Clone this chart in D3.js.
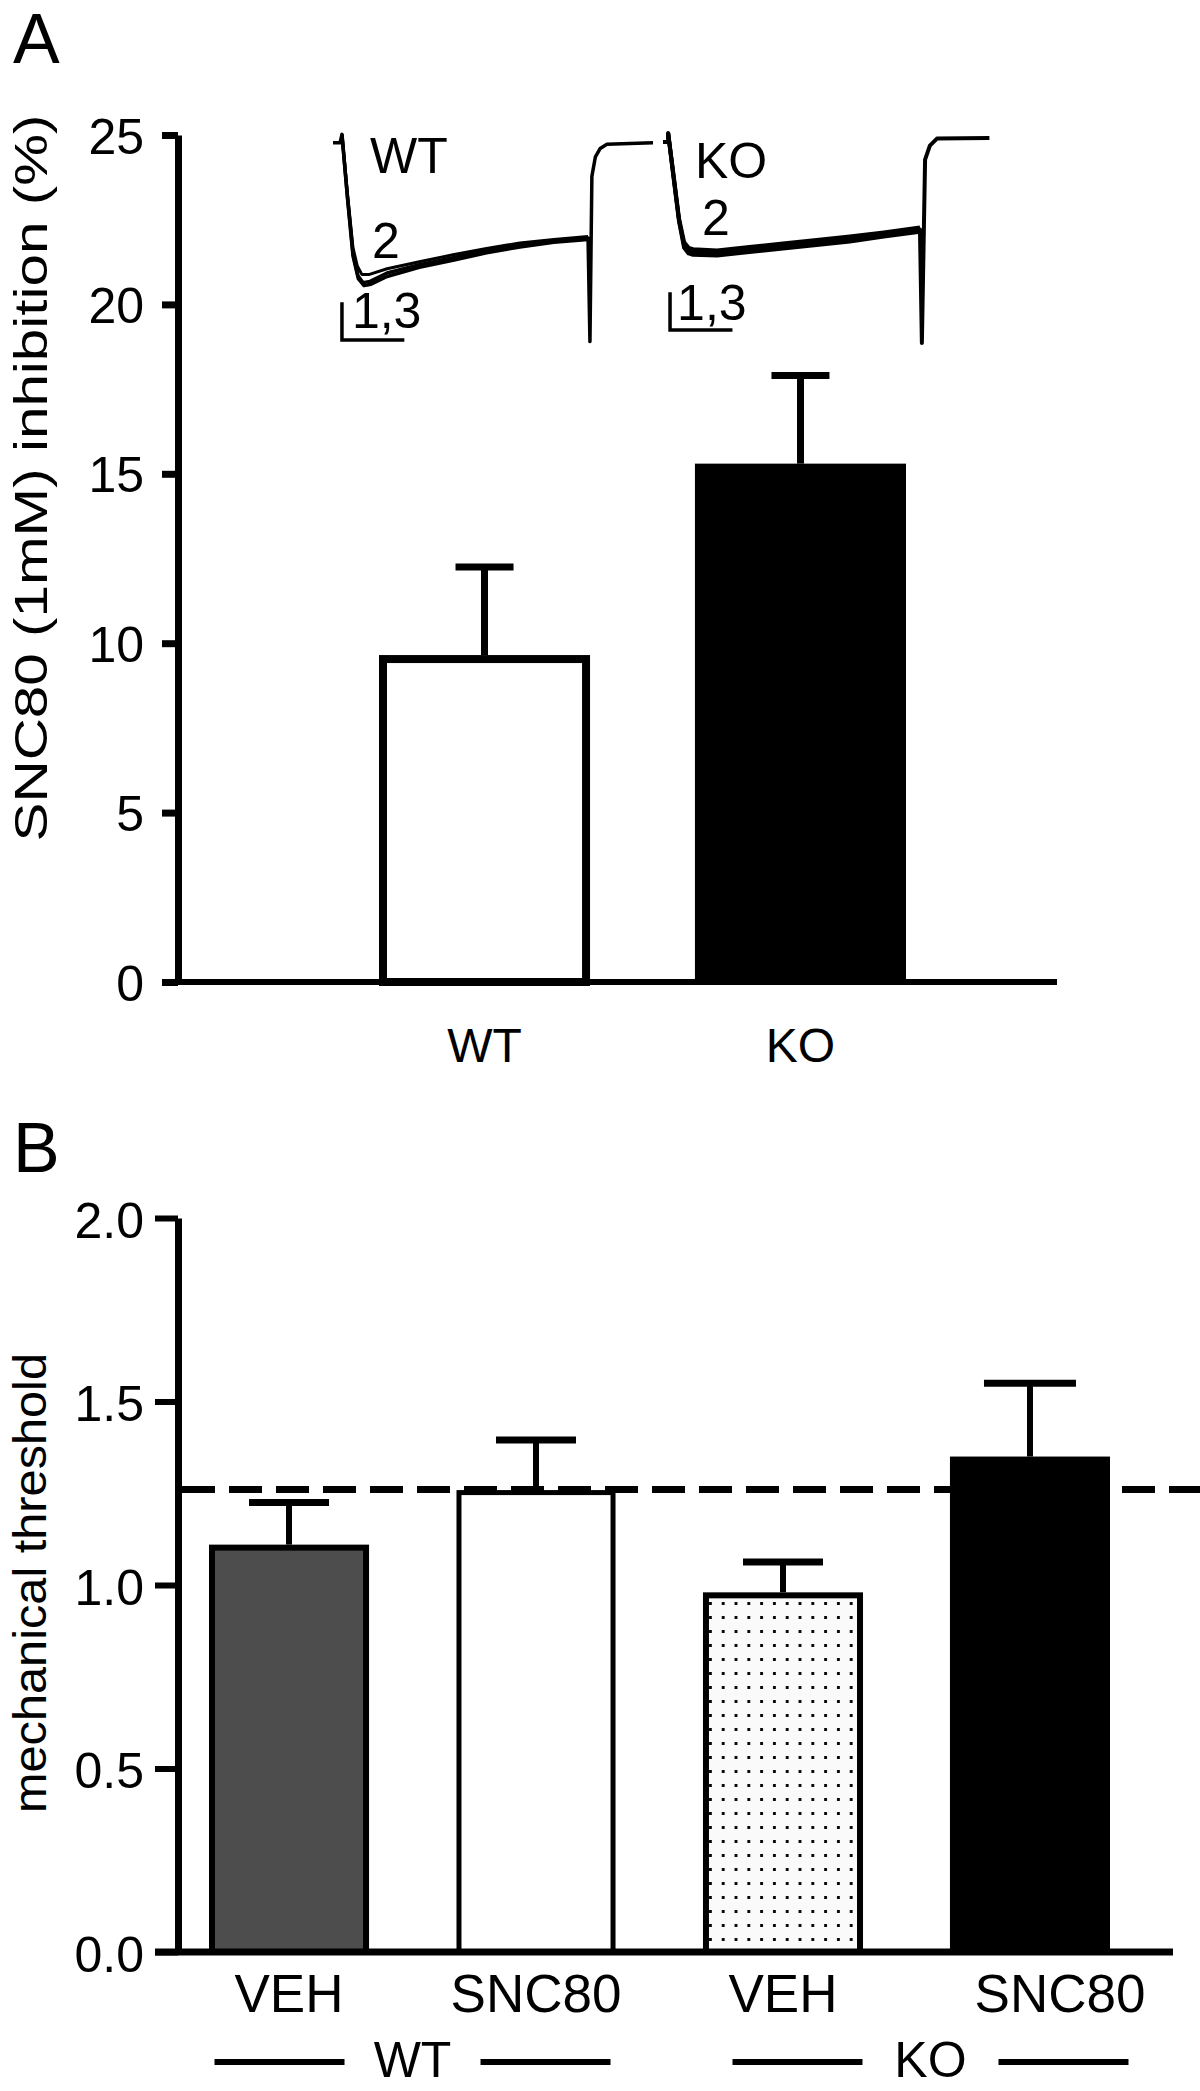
<!DOCTYPE html>
<html><head><meta charset="utf-8">
<script src="https://cdn.jsdelivr.net/npm/d3@7"></script>
<style>
body{margin:0;background:#fff}
svg{display:block}
text{font-family:"Liberation Sans",Arial,Helvetica,sans-serif;fill:#000}
</style>
</head><body>
<svg id="chart" width="1200" height="2091"></svg>
<script>
// ---------- Panel A data ----------
const catsA = ["WT", "KO"];
const meanA = [9.65, 15.3];
const semA = [2.6, 2.6];
const ticksA = [0, 5, 10, 15, 20, 25];
const titleA = "SNC80 (1mM)  inhibition (%)";

// ---------- Panel A inset traces (time ms, current rel. units) ----------
const traceWT1 = [[0,-2],[2.2,-2],[2.8,4],[4.5,-40],[6.25,-81],[7.8,-97],[9.4,-102],[11.6,-101],[16.9,-95],[27,-89],[37.5,-84],[48,-79],[58.4,-75],[69,-72],[79.7,-70],[80.3,-144],[80.9,-26],[82,-12],[83.5,-6],[85.6,-3],[100,-2]];
const traceWT2 = [[2.8,4],[4.5,-38],[6.25,-77],[7.6,-90],[9.0,-96],[11.4,-96],[16.9,-92],[27,-87],[37.5,-82],[48,-77.5],[58.4,-73.5],[69,-71],[79.7,-69]];
const traceWT3 = [[2.8,4],[4.5,-41],[6.25,-83],[7.9,-99],[9.7,-104],[11.9,-103],[16.9,-97.5],[27,-91],[37.5,-86],[48,-80.5],[58.4,-76.5],[69,-73],[79.7,-71]];
const traceKO1 = [[0,-1.5],[1.6,-1.5],[1.6,5],[3.3,-26],[5,-57],[6.6,-75],[8,-79],[9.4,-80],[16.9,-81],[27,-78.5],[37.5,-76],[48,-73.5],[58.4,-71],[69,-67.5],[80.3,-64],[80.9,-145],[81.9,-14],[83.4,-4],[85.6,1],[102,1.5]];
const traceKO2 = [[1.6,5],[3.3,-25],[5,-56],[6.6,-73],[8,-77],[9.4,-78],[16.9,-79],[27,-76.5],[37.5,-74],[48,-71.5],[58.4,-69],[69,-66],[80.3,-62.5]];
const traceKO3 = [[1.6,5],[3.3,-27],[5,-58],[6.6,-77],[8,-81],[9.4,-82],[16.9,-82.5],[27,-80],[37.5,-77.5],[48,-75],[58.4,-72.5],[69,-69],[80.3,-65.5]];

// ---------- Panel B data ----------
const catsB = ["VEH", "SNC80", "VEH", "SNC80"];
const groupsB = ["WT", "KO"];
const meanB = [1.11, 1.26, 0.98, 1.35];
const semB = [0.115, 0.135, 0.083, 0.20];
const ticksB = [0, 0.5, 1.0, 1.5, 2.0];
const controlB = 1.26;
const titleB = "mechanical threshold";

const svg = d3.select("#chart");

// pattern for dotted bar
const defs = svg.append("defs");
const pat = defs.append("pattern").attr("id","dots").attr("patternUnits","userSpaceOnUse")
  .attr("width",12.8).attr("height",14);
pat.append("rect").attr("width",12.8).attr("height",14).attr("fill","#fafafa");
pat.append("rect").attr("x",5).attr("y",6).attr("width",2.8).attr("height",3).attr("fill","#000");

// ================= PANEL A =================
const yA = d3.scaleLinear().domain([0, 25]).range([982, 135]);
const xA = d3.scaleBand().domain(catsA).range([379, 906]).paddingInner(0.332).paddingOuter(0);
const axisXA = 178;

svg.append("text").attr("x", 13).attr("y", 63).attr("font-size", 70).text("A");

// y axis
const gA = svg.append("g").attr("transform", `translate(${axisXA},0)`)
  .call(d3.axisLeft(yA).tickValues(ticksA).tickSize(16).tickSizeOuter(0).tickPadding(18).tickFormat(d3.format("d")));
gA.select(".domain").attr("stroke","#000").attr("stroke-width",7);
gA.selectAll(".tick line").attr("stroke","#000").attr("stroke-width",7);
gA.selectAll(".tick text").attr("font-size",50).attr("dy","0.36em").attr("font-family","Liberation Sans, Arial, sans-serif");

// x axis line
svg.append("line").attr("x1", axisXA - 16).attr("x2", 1057).attr("y1", yA(0)).attr("y2", yA(0))
  .attr("stroke","#000").attr("stroke-width",6);

// bars A
const swA = 8;
catsA.forEach((c,i) => {
  const x = xA(c), w = xA.bandwidth();
  if (i === 0) {
    svg.append("rect").attr("x", x + swA/2).attr("y", yA(meanA[i]) + swA/2)
      .attr("width", w - swA).attr("height", yA(0) - yA(meanA[i]) - swA/2)
      .attr("fill","#fff").attr("stroke","#000").attr("stroke-width",swA);
  } else {
    svg.append("rect").attr("x", x).attr("y", yA(meanA[i]))
      .attr("width", w).attr("height", yA(0) - yA(meanA[i]) + 3).attr("fill","#000");
  }
  const cx = x + w/2;
  svg.append("line").attr("x1",cx).attr("x2",cx).attr("y1",yA(meanA[i])).attr("y2",yA(meanA[i]+semA[i]))
    .attr("stroke","#000").attr("stroke-width",7);
  svg.append("line").attr("x1",cx-29).attr("x2",cx+29).attr("y1",yA(meanA[i]+semA[i])).attr("y2",yA(meanA[i]+semA[i]))
    .attr("stroke","#000").attr("stroke-width",7);
  svg.append("text").attr("x",cx).attr("y",1062).attr("text-anchor","middle").attr("font-size",48).text(c);
});

// y title A
svg.append("text").attr("transform",`translate(47,${478}) rotate(-90)`).attr("text-anchor","middle")
  .attr("font-size",46).attr("textLength",727).attr("lengthAdjust","spacingAndGlyphs").text(titleA);

// ---- inset traces ----
const yTr = d3.scaleLinear().domain([0,-100]).range([140,280]);
const xTrWT = d3.scaleLinear().domain([0,100]).range([333,653]);
const xTrKO = d3.scaleLinear().domain([0,100]).range([663,983]);
function drawTrace(data, xs, sw){
  svg.append("path").datum(data)
    .attr("d", d3.line().x(d=>xs(d[0])).y(d=>yTr(d[1])))
    .attr("fill","none").attr("stroke","#000").attr("stroke-width",sw).attr("stroke-linejoin","round");
}
drawTrace(traceWT2, xTrWT, 3);
drawTrace(traceWT3, xTrWT, 3.5);
drawTrace(traceWT1, xTrWT, 3.5);
drawTrace(traceKO2, xTrKO, 4);
drawTrace(traceKO3, xTrKO, 4);
drawTrace(traceKO1, xTrKO, 4);

function insetLabel(xs, t, v, txt){
  svg.append("text").attr("x", xs(t)).attr("y", yTr(v)).attr("font-size",50).text(txt);
}
insetLabel(xTrWT, 11.6, -23.6, "WT");
insetLabel(xTrWT, 12.2, -84, "2");
insetLabel(xTrWT, 5.9, -134, "1,3");
insetLabel(xTrKO, 10, -27, "KO");
insetLabel(xTrKO, 12.2, -68, "2");
insetLabel(xTrKO, 4.4, -128.6, "1,3");

function scaleBar(xs, t0, v0){
  const p = d3.path();
  p.moveTo(xs(t0), yTr(v0 + 27));
  p.lineTo(xs(t0), yTr(v0));
  p.lineTo(xs(t0 + 19.5), yTr(v0));
  svg.append("path").attr("d", p.toString()).attr("fill","none").attr("stroke","#000").attr("stroke-width",3.5);
}
scaleBar(xTrWT, 2.8, -142.9);
scaleBar(xTrKO, 2.2, -135.7);

// ================= PANEL B =================
const yB = d3.scaleLinear().domain([0, 2]).range([1952, 1218]);
const xB = d3.scaleBand().domain(d3.range(catsB.length)).range([209, 1110]).paddingInner(0.352).paddingOuter(0);
const axisXB = 178;

svg.append("text").attr("x", 13).attr("y", 1172).attr("font-size", 70).text("B");

const gB = svg.append("g").attr("transform", `translate(${axisXB},0)`)
  .call(d3.axisLeft(yB).tickValues(ticksB).tickSize(23).tickSizeOuter(0).tickPadding(11).tickFormat(d3.format(".1f")));
gB.select(".domain").attr("stroke","#000").attr("stroke-width",7);
gB.selectAll(".tick line").attr("stroke","#000").attr("stroke-width",6);
gB.selectAll(".tick text").attr("font-size",50).attr("dy","0.38em").attr("font-family","Liberation Sans, Arial, sans-serif");

const fillsB = ["#4d4d4d", "#fff", "url(#dots)", "#000"];
const swB = 6;
meanB.forEach((m,i) => {
  const x = xB(i), w = xB.bandwidth();
  if (i === 3) {
    svg.append("rect").attr("x",x).attr("y",yB(m)).attr("width",w).attr("height",yB(0)-yB(m)).attr("fill","#000");
  } else {
    svg.append("rect").attr("x",x+swB/2).attr("y",yB(m)+swB/2).attr("width",w-swB).attr("height",yB(0)-yB(m)-swB/2)
      .attr("fill",fillsB[i]).attr("stroke","#000").attr("stroke-width",i===1?5:swB);
  }
  const cx = x + w/2;
  svg.append("line").attr("x1",cx).attr("x2",cx).attr("y1",yB(m)).attr("y2",yB(m+semB[i]))
    .attr("stroke","#000").attr("stroke-width",6);
  const cw = i === 3 ? 46 : 40;
  svg.append("line").attr("x1",cx-cw).attr("x2",cx+cw).attr("y1",yB(m+semB[i])).attr("y2",yB(m+semB[i]))
    .attr("stroke","#000").attr("stroke-width",7);
  svg.append("text").attr("x",cx + (i===3?30:0)).attr("y",2012).attr("text-anchor","middle").attr("font-size",53).text(catsB[i]);
});

// x axis B
svg.append("line").attr("x1",axisXB-23).attr("x2",1173).attr("y1",yB(0)).attr("y2",yB(0))
  .attr("stroke","#000").attr("stroke-width",7);

// control dashed line
svg.append("line").attr("x1",axisXB+4).attr("x2",1200).attr("y1",yB(controlB)).attr("y2",yB(controlB))
  .attr("stroke","#000").attr("stroke-width",7).attr("stroke-dasharray","33,14");

// group labels
groupsB.forEach((g,gi) => {
  const c = (xB(gi*2) + xB(gi*2+1) + xB.bandwidth())/2 + (gi===1?24:0);
  svg.append("text").attr("x",c).attr("y",2077).attr("text-anchor","middle").attr("font-size",50).text(g);
  [[-198,-68],[68,198]].forEach(([a,b]) => {
    svg.append("line").attr("x1",c+a).attr("x2",c+b).attr("y1",2062).attr("y2",2062)
      .attr("stroke","#000").attr("stroke-width",6);
  });
});

// y title B
svg.append("text").attr("transform",`translate(46,${1583}) rotate(-90)`).attr("text-anchor","middle")
  .attr("font-size",46).attr("textLength",460).attr("lengthAdjust","spacingAndGlyphs").text(titleB);
</script>
</body></html>
